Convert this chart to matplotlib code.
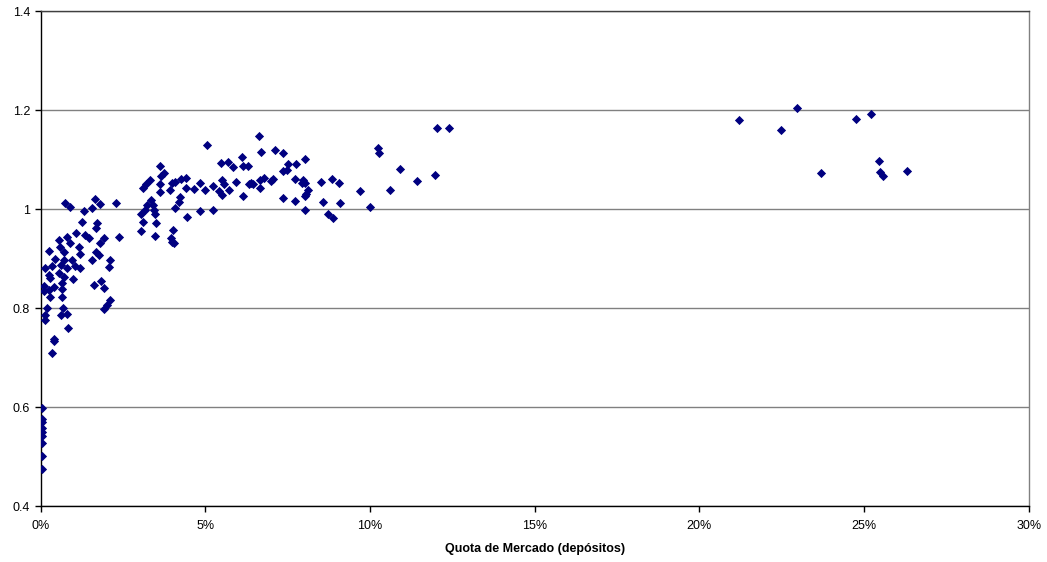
import matplotlib
matplotlib.use("Agg")
import matplotlib.pyplot as plt
from matplotlib.ticker import PercentFormatter, MultipleLocator

# market share (% of deposits) and ratio
quota = [
    0.05, 0.05, 0.05, 0.05, 0.05, 0.05, 0.05, 0.05, 0.05,
    0.40, 0.35,
    0.74, 0.89, 1.64, 1.57, 1.82, 2.30, 1.31, 1.26, 1.72, 1.67, 1.09, 1.36, 1.46,
    1.94, 2.37, 0.55, 0.81, 0.89, 1.82, 0.25, 0.58, 0.71, 1.16, 1.21, 1.67, 1.77,
    0.45, 0.71, 0.96, 1.57, 2.10, 0.35, 0.61, 0.79, 1.06, 1.21, 2.07, 0.25, 0.55,
    0.71, 0.99, 0.30, 0.66, 1.62, 1.84, 1.92, 0.25, 0.40, 0.66, 0.30, 0.66, 2.12,
    2.02, 1.92, 0.20, 0.69, 0.15, 0.61, 0.79, 0.15, 0.83, 0.42, 0.10, 0.12, 0.15,
    5.05, 6.11, 5.48, 5.68, 5.84, 6.14, 6.31, 3.62, 3.74, 3.66, 3.33, 3.21, 3.11,
    3.62, 3.62, 3.99, 4.09, 4.26, 4.42, 3.94, 4.42, 4.67, 4.85, 5.00, 5.23, 5.51,
    5.58, 5.43, 5.71, 5.51, 5.94, 6.16, 6.34, 4.22, 4.19, 4.09, 3.23, 3.35, 3.41,
    3.43, 3.18, 3.05, 3.48, 4.83, 5.25, 4.44, 3.11, 3.52, 3.05, 4.02, 3.48, 3.96,
    3.99, 4.06,
    6.64, 6.69, 7.12, 7.35, 8.03, 7.52, 7.76, 7.37, 7.47, 6.38, 6.44, 6.65, 6.77,
    6.99, 7.05, 6.67, 7.73, 7.98, 7.93, 8.03, 8.13, 8.06, 8.03, 7.37, 7.73, 8.03,
    8.51, 8.84, 9.07, 8.57, 9.09, 8.74, 8.89, 9.70, 10.00, 10.25, 10.28, 10.61,
    10.91, 11.43, 11.98, 12.02, 12.40,
    21.2, 22.96, 22.47, 24.75, 25.2, 23.69, 25.45, 25.47, 25.58, 26.29,
]
ratio = [
    0.599, 0.575, 0.569, 0.557, 0.549, 0.541, 0.527, 0.501, 0.474,
    0.734, 0.710,
    1.013, 1.004, 1.021, 1.003, 1.010, 1.012, 0.996, 0.974, 0.971, 0.961, 0.952, 0.947, 0.941,
    0.942, 0.944, 0.937, 0.944, 0.931, 0.931, 0.916, 0.924, 0.914, 0.924, 0.910, 0.914, 0.907,
    0.900, 0.897, 0.897, 0.897, 0.897, 0.884, 0.887, 0.880, 0.884, 0.880, 0.882, 0.867, 0.870,
    0.863, 0.858, 0.860, 0.850, 0.847, 0.855, 0.840, 0.837, 0.843, 0.838, 0.823, 0.822, 0.817,
    0.806, 0.798, 0.800, 0.800, 0.786, 0.786, 0.788, 0.776, 0.760, 0.738, 0.835, 0.845, 0.880,
    1.129, 1.106, 1.093, 1.094, 1.085, 1.087, 1.087, 1.087, 1.073, 1.066, 1.058, 1.050, 1.043,
    1.050, 1.034, 1.053, 1.055, 1.061, 1.063, 1.039, 1.042, 1.041, 1.053, 1.038, 1.046, 1.058,
    1.050, 1.036, 1.038, 1.028, 1.055, 1.026, 1.051, 1.024, 1.014, 1.003, 1.008, 1.018, 1.008,
    0.998, 0.998, 0.990, 0.990, 0.996, 0.999, 0.983, 0.974, 0.972, 0.956, 0.957, 0.945, 0.941,
    0.934, 0.932,
    1.147, 1.115, 1.120, 1.113, 1.101, 1.090, 1.090, 1.077, 1.079, 1.053, 1.050, 1.059, 1.063,
    1.057, 1.061, 1.042, 1.061, 1.059, 1.053, 1.053, 1.038, 1.031, 1.026, 1.023, 1.016, 0.999,
    1.055, 1.060, 1.053, 1.014, 1.013, 0.990, 0.982, 1.036, 1.004, 1.123, 1.113, 1.038,
    1.081, 1.057, 1.068, 1.164, 1.163,
    1.180, 1.205, 1.159, 1.181, 1.191, 1.073, 1.097, 1.075, 1.067, 1.076,
]

plt.rcParams['font.family'] = ['Liberation Sans', 'DejaVu Sans']

fig = plt.figure(figsize=(10.47, 5.62), dpi=100)
ax = fig.add_axes([0.0387, 0.0996, 0.944, 0.8808])

ax.scatter(quota, ratio, marker='D', s=22, color='#000080', linewidths=0, zorder=3)

ax.set_xlim(0, 30)
ax.set_ylim(0.4, 1.4)
ax.xaxis.set_major_locator(MultipleLocator(5))
ax.xaxis.set_major_formatter(PercentFormatter(100, decimals=0))
ax.yaxis.set_major_locator(MultipleLocator(0.2))
ax.yaxis.set_major_formatter(lambda v, p: '%g' % round(v, 1))
ax.grid(axis='y', color='#808080', linewidth=1)
ax.set_axisbelow(True)

ax.spines['left'].set_color('black')
ax.spines['bottom'].set_color('black')
ax.spines['top'].set_color('#404040')
ax.spines['right'].set_color('#808080')
for s in ax.spines.values():
    s.set_linewidth(1)

ax.tick_params(axis='both', direction='out', length=4, width=1, labelsize=9, colors='black')
ax.tick_params(axis='x', pad=6)
ax.set_xlabel('Quota de Mercado (depósitos)', fontsize=9, fontweight='bold', labelpad=8)

fig.savefig('out.png', dpi=100)
